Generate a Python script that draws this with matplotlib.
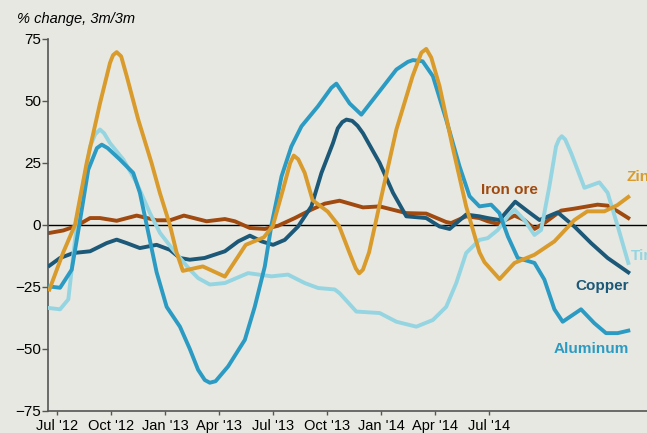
import matplotlib
matplotlib.use("Agg")
import matplotlib.pyplot as plt

# months counted from Jul 2012 (0 = Jul '12)
tick_months = [0, 3, 6, 9, 12, 15, 18, 21, 24]
tick_labels = ["Jul '12", "Oct '12", "Jan '13", "Apr '13", "Jul '13",
               "Oct '13", "Jan '14", "Apr '14", "Jul '14"]

zinc_m = [-0.44, 0.33, 0.98, 1.63, 2.37, 2.93, 3.10, 3.30, 3.55, 3.86, 4.50, 5.24, 5.70,
          6.26, 6.63, 6.98, 8.09, 9.32, 10.48, 11.48, 11.98, 12.54, 12.95, 13.15, 13.40,
          13.76, 14.20, 15.04, 15.68, 16.24, 16.60, 16.79, 17.00, 17.34, 17.90, 18.86,
          19.76, 20.25, 20.52, 20.80, 21.26, 21.98, 22.74, 23.48, 23.76, 24.60, 25.43,
          26.54, 27.65, 28.76, 29.48, 30.43, 31.15, 31.76]
zinc = [-26, -11, 0, 25, 49, 65.4, 68.5, 69.7, 68, 60, 42.5, 25, 13,
        0, -11, -18.5, -16.7, -20.8, -8, -5, -0.5, 14, 25, 28, 26.5,
        21, 10, 5.4, -0.5, -11, -17.5, -19.5, -18, -11, 7.4, 38.5,
        60, 69.5, 71, 67.5, 56, 31.7, 7.5, -11, -15, -21.8, -15.3,
        -12, -6.6, 2, 5.5, 5.5, 8, 11.3]

alu_m = [-0.44, 0.15, 0.80, 1.22, 1.72, 2.20, 2.47, 2.80, 3.48, 4.22, 4.59, 4.97, 5.52,
         6.08, 6.82, 7.37, 7.83, 8.20, 8.48, 8.80, 9.50, 10.43, 10.98, 11.54, 11.91,
         12.47, 13.02, 13.58, 14.50, 15.24, 15.52, 16.26, 16.91, 17.93, 18.86, 19.50,
         19.78, 20.32, 20.89, 21.63, 22.37, 22.93, 23.48, 24.13, 24.59, 25.06, 25.61,
         26.54, 27.09, 27.65, 28.11, 29.13, 29.87, 30.52, 31.17, 31.76]
aluminum = [-24.8, -25.3, -18, 0, 22.3, 31, 32.4, 31, 26.4, 21, 13, 0, -19,
            -33, -41, -50, -58.4, -62.5, -63.6, -63, -57, -46.3, -33, -16.7, 0,
            19.6, 31.7, 39.8, 47.9, 55.3, 57, 49, 44.5, 54, 62.7, 65.8,
            66.5, 66, 60, 42.5, 23.7, 11.6, 7.5, 8.2, 4.8, -4.6, -13.3,
            -15.3, -22, -34, -39, -34, -39.6, -43.6, -43.6, -42.6]

tin_m = [-0.44, 0.15, 0.61, 1.0, 1.44, 1.82, 2.10, 2.37, 2.60, 2.93, 3.67, 4.41, 5.15,
         5.71, 6.44, 7.37, 7.83, 8.48, 9.32, 10.61, 11.91, 12.83, 13.76, 14.50, 15.43,
         15.70, 16.63, 17.93, 18.86, 19.97, 20.89, 21.63, 22.19, 22.74, 23.48, 23.94,
         24.50, 25.06, 25.43, 25.98, 26.54, 26.91, 27.37, 27.74, 27.90, 28.06, 28.25,
         28.58, 29.32, 30.15, 30.61, 31.17, 31.76]
tin = [-33.5, -34, -30, -5, 15.6, 31.7, 36.5, 38.5, 37, 33, 26.4, 17, 4.8,
       -3.2, -10, -18, -21.4, -24, -23.4, -19.4, -20.7, -20, -23.4, -25.4, -26,
       -27.5, -34.9, -35.5, -39, -41, -38.3, -33, -23.4, -11.3, -6, -5.3,
       -2, 3.5, 6.2, 2, -4, -2, 15.6, 31.7, 34.5, 35.8, 34.5,
       29, 15, 17.2, 13, -0.5, -15.3]

copper_m = [-0.44, 0.15, 0.89, 1.82, 2.74, 3.30, 3.86, 4.59, 5.52, 6.26, 6.82, 7.37,
            8.19, 9.32, 10.06, 10.71, 11.36, 12.00, 12.65, 13.39, 14.13, 14.69, 15.33,
            15.60, 15.85, 16.08, 16.40, 16.70, 17.00, 17.93, 18.67, 19.41, 20.52, 21.26,
            21.82, 22.74, 23.48, 23.94, 24.59, 25.47, 26.17, 26.82, 27.83, 28.76, 29.69,
            30.61, 31.76]
copper = [-16.4, -13.3, -11.3, -10.6, -7.3, -5.9, -7.3, -9.3, -8, -10, -13.3, -14,
          -13.3, -10.6, -6.6, -4.3, -6.6, -8, -6, -0.6, 7.5, 21, 33,
          39, 41.5, 42.5, 42, 40, 37, 25, 13, 3.5, 2.8, -0.6,
          -1.6, 4.2, 3.5, 2.8, 2, 9.4, 5.5, 2, 5.1, -0.6, -7.3,
          -13.3, -19.1]

iron_m = [-0.44, 0.33, 1.08, 1.82, 2.37, 3.30, 4.41, 5.52, 6.26, 7.04, 8.30, 9.32,
          9.87, 10.71, 11.54, 12.28, 13.21, 14.13, 14.87, 15.70, 17.00, 17.93, 19.41,
          20.52, 21.63, 21.91, 22.74, 23.48, 23.94, 24.50, 25.43, 25.98, 26.54, 27.09,
          28.02, 28.76, 30.05, 30.61, 31.17, 31.76]
iron_ore = [-3.2, -2.2, -0.3, 2.8, 2.8, 1.7, 3.8, 1.9, 1.9, 3.8, 1.5, 2.4,
            1.5, -1.2, -1.6, -0.3, 2.8, 6.2, 8.6, 9.8, 7.1, 7.5, 4.8,
            4.6, 1.2, 0.8, 3.5, 2.8, 1.5, 0.5, 3.8, 2, -1.6, 0.8,
            5.8, 6.6, 8.2, 7.8, 5.5, 2.8]

bg = '#e7e8e1'
c_zinc = '#d99b2b'
c_alu = '#2b9bc3'
c_tin = '#95d5e1'
c_copper = '#1c5877'
c_iron = '#a04a10'

plt.rcParams['font.family'] = ['Liberation Sans', 'DejaVu Sans']

fig = plt.figure(figsize=(6.47, 4.33), dpi=100, facecolor=bg)
ax = fig.add_axes([48 / 647, 22 / 433, 1 - 48 / 647, 372 / 433])
ax.set_facecolor(bg)

ax.axhline(0, color='black', lw=1, zorder=1)

lw = 2.8
ax.plot(iron_m, iron_ore, color=c_iron, lw=lw, solid_joinstyle='round', zorder=2)
ax.plot(copper_m, copper, color=c_copper, lw=lw, solid_joinstyle='round', zorder=3)
ax.plot(tin_m, tin, color=c_tin, lw=lw, solid_joinstyle='round', zorder=4)
ax.plot(alu_m, aluminum, color=c_alu, lw=lw, solid_joinstyle='round', zorder=5)
ax.plot(zinc_m, zinc, color=c_zinc, lw=lw, solid_joinstyle='round', zorder=6)

ax.set_xlim(-0.52, 32.8)
ax.set_ylim(-75, 75)
ax.set_yticks([-75, -50, -25, 0, 25, 50, 75])
ax.set_xticks(tick_months)
ax.set_xticklabels(tick_labels)

for s in ['top', 'right']:
    ax.spines[s].set_visible(False)
for s in ['left', 'bottom']:
    ax.spines[s].set_color('#555555')
    ax.spines[s].set_linewidth(1.2)
ax.tick_params(axis='y', length=4, width=1, color='#555555', labelsize=11, pad=1)
ax.tick_params(axis='x', length=3, width=1, color='#555555', labelsize=10.5, pad=3)

fs = 11
ax.text(25.15, 14.3, 'Iron ore', color=c_iron, fontsize=fs, fontweight='bold',
        ha='center', va='center')
# the reference crops these two labels at the right edge
ax.text(31.65, 19.5, 'Zinc', color=c_zinc, fontsize=fs, fontweight='bold',
        ha='left', va='center', clip_on=False)
ax.text(31.93, -12.4, 'Tin', color=c_tin, fontsize=fs, fontweight='bold',
        ha='left', va='center', clip_on=False)
ax.text(30.32, -24.5, 'Copper', color=c_copper, fontsize=fs, fontweight='bold',
        ha='center', va='center')
ax.text(29.7, -50, 'Aluminum', color=c_alu, fontsize=fs, fontweight='bold',
        ha='center', va='center')

fig.text(17 / 647, 1 - 19 / 433, '% change, 3m/3m', fontsize=10.5, style='italic',
         ha='left', va='center')

fig.savefig('out.png', dpi=100, facecolor=bg)
